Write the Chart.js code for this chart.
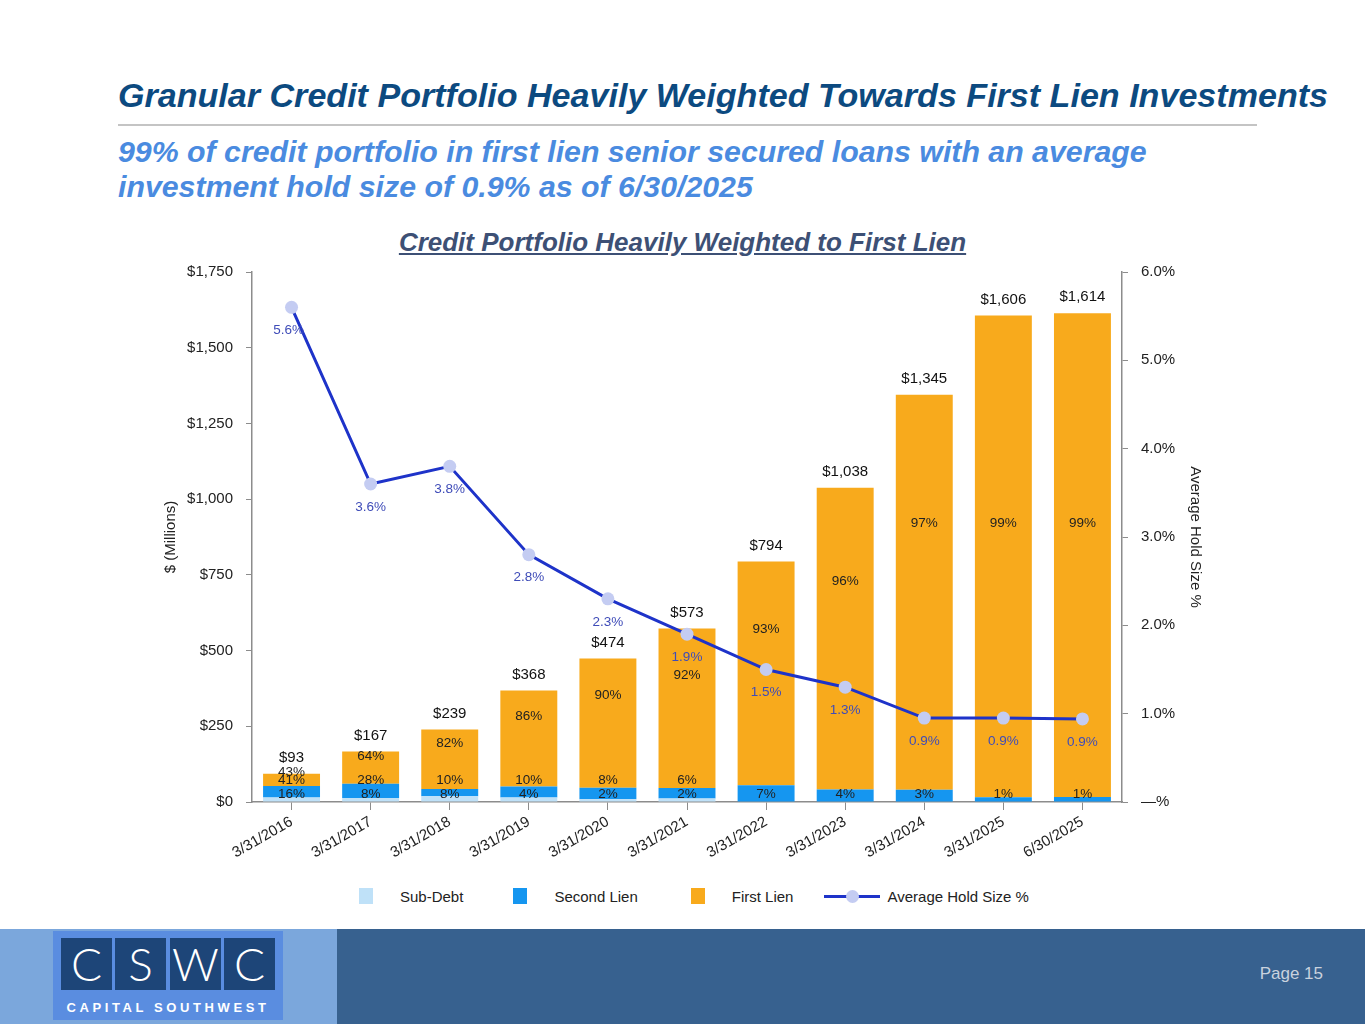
<!DOCTYPE html>
<html lang="en">
<head>
<meta charset="UTF-8">
<title>Credit Portfolio</title>
<script src="https://cdn.jsdelivr.net/npm/chart.js@4"></script>
<style>
  body { margin: 0; }
  #page { position: relative; width: 1365px; height: 1024px; overflow: hidden; background: #fff; font-family: "Liberation Sans", Arial, sans-serif; }
  #title { position: absolute; left: 118px; top: 76px; font-size: 34.1px; font-weight: bold; font-style: italic; color: #0c4a80; white-space: nowrap; }
  #rule { position: absolute; left: 118px; top: 124px; width: 1139px; height: 2px; background: #c4c4c4; }
  #subtitle { position: absolute; left: 118px; top: 134px; font-size: 30.3px; line-height: 35px; font-weight: bold; font-style: italic; color: #4a8be0; white-space: nowrap; }
  #chartTitle { position: absolute; left: 0; width: 1365px; top: 227px; text-align: center; font-size: 26px; font-weight: bold; font-style: italic; text-decoration: underline; color: #3d5075; }
  #myChart { position: absolute; left: 0; top: 250px; }
  #legend { position: absolute; left: 359px; top: 886px; height: 20px; display: flex; align-items: center; font-size: 15px; color: #222; }
  .item { display: flex; align-items: center; margin-right: 50px; }
  .box { width: 14px; height: 16px; margin-right: 27px; }
  .lineKey { position: relative; width: 56px; height: 3px; margin-right: 7px; }
  .lineKey span { position: absolute; left: 22px; top: -5px; width: 13px; height: 13px; border-radius: 50%; }
  #footer { position: absolute; left: 0; top: 929px; width: 1365px; height: 95px; background: #37618f; }
  #footLeft { position: absolute; left: 0; top: 0; width: 337px; height: 95px; background: #7ba7dc; }
  #logo { position: absolute; left: 53px; top: 2px; width: 230px; height: 89px; background: #5a8de0; }
  .sq { position: absolute; top: 7px; width: 51px; height: 52px; background: #1d4578; color: #fff; font-family: Lato, "Open Sans", sans-serif; font-weight: 300; font-size: 46px; line-height: 52px; text-align: center; }
  #logoText { position: absolute; left: 0; width: 230px; top: 69px; text-align: center; color: #fff; font-size: 13px; font-weight: bold; letter-spacing: 3.6px; }
  #pageNo { position: absolute; right: 42px; top: 35px; font-size: 17px; color: #c9d2de; }
</style>
</head>
<body>
<div id="page">
  <div id="title">Granular Credit Portfolio Heavily Weighted Towards First Lien Investments</div>
  <div id="rule"></div>
  <div id="subtitle">99% of credit portfolio in first lien senior secured loans with an average<br>investment hold size of 0.9% as of 6/30/2025</div>
  <div id="chartTitle">Credit Portfolio Heavily Weighted to First Lien</div>
  <canvas id="myChart" width="1365" height="620"></canvas>
  <div id="legend"></div>
  <div id="footer">
    <div id="footLeft"></div>
    <div id="logo">
      <div class="sq" style="left:8px">C</div>
      <div class="sq" style="left:62px">S</div>
      <div class="sq" style="left:117px">W</div>
      <div class="sq" style="left:171px">C</div>
      <div id="logoText">CAPITAL SOUTHWEST</div>
    </div>
    <div id="pageNo">Page 15</div>
  </div>
</div>

<script>
// values
const categories = ['3/31/2016', '3/31/2017', '3/31/2018', '3/31/2019', '3/31/2020', '3/31/2021',
                    '3/31/2022', '3/31/2023', '3/31/2024', '3/31/2025', '6/30/2025'];
const totals = [93, 167, 239, 368, 474, 573, 794, 1038, 1345, 1606, 1614];   // $ millions
const firstLienPct = [43, 64, 82, 86, 90, 92, 93, 96, 97, 99, 99];
const secondLienPct = [41, 28, 10, 10, 8, 6, 7, 4, 3, 1, 1];
const subDebtPct = [16, 8, 8, 4, 2, 2, 0, 0, 0, 0, 0];
const holdSize = [5.6, 3.6, 3.8, 2.8, 2.3, 1.9, 1.5, 1.3, 0.95, 0.95, 0.94];   // %

const dollarTicks = [0, 250, 500, 750, 1000, 1250, 1500, 1750];
const holdTicks = [0, 1, 2, 3, 4, 5, 6];

const FONT = '"Liberation Sans", Arial, sans-serif';

// dollar amount of each slice = total x share
function slice(p_pct) {
    return totals.map((t, i) => t * p_pct[i] / 100);
}

// percentage and total labels on the bars, hold size labels under points
const labelsPlugin = {
    id: 'barLabels',
    afterDatasetsDraw(chart) {
        const ctx = chart.ctx;
        const y = chart.scales.y;
        const yZero = y.getPixelForValue(0);
        const first = chart.getDatasetMeta(2).data;
        const line = chart.getDatasetMeta(3).data;
        ctx.save();
        ctx.textAlign = 'center';
        ctx.textBaseline = 'middle';
        for (let i = 0; i < categories.length; i++) {
            const bar = first[i];
            const top = bar.y;
            const h = bar.base - top;

            ctx.font = '15px ' + FONT;
            ctx.fillStyle = '#111';
            ctx.fillText('$' + totals[i].toLocaleString('en-US'), bar.x, top - 16);

            ctx.font = '13.5px ' + FONT;
            ctx.fillStyle = '#222';
            const yFirst = Math.max(top + 0.33 * h - 6, y.getPixelForValue(920));
            ctx.fillText(firstLienPct[i] + '%', bar.x, yFirst);
            if (subDebtPct[i] > 0) {
                ctx.fillText(subDebtPct[i] + '%', bar.x, yZero - 8);
                ctx.fillText(secondLienPct[i] + '%', bar.x, yZero - 22);
            } else {
                ctx.fillText(secondLienPct[i] + '%', bar.x, yZero - 8);
            }

            ctx.fillStyle = '#3f4cb8';
            ctx.fillText(holdSize[i].toFixed(1) + '%', line[i].x - (i === 0 ? 3 : 0), line[i].y + 23);
        }
        ctx.restore();
    }
};

const ctx = document.getElementById('myChart');

const myChart = new Chart(ctx, {
    data: {
        labels: categories,
        datasets: [
            { type: 'bar', label: 'Sub-Debt', data: slice(subDebtPct), backgroundColor: '#bfe1f8', stack: 's', order: 2 },
            { type: 'bar', label: 'Second Lien', data: slice(secondLienPct), backgroundColor: '#1596f0', stack: 's', order: 2 },
            { type: 'bar', label: 'First Lien', data: slice(firstLienPct), backgroundColor: '#f8aa1c', stack: 's', order: 2 },
            {
                type: 'line', label: 'Average Hold Size %', data: holdSize, yAxisID: 'y1', order: 0,
                borderColor: '#1e33c9', borderWidth: 3, tension: 0,
                pointRadius: 6.5, pointBackgroundColor: '#c4ccf2', pointBorderWidth: 0
            }
        ]
    },
    options: {
        responsive: false,
        animation: false,
        layout: { padding: { top: 18, left: 158, right: 157, bottom: 0 } },
        datasets: { bar: { categoryPercentage: 1, barPercentage: 0.72 } },
        plugins: { legend: { display: false }, tooltip: { enabled: false } },
        scales: {
            x: {
                stacked: true,
                afterFit(scale) { scale.height = 68; },
                grid: { drawOnChartArea: false, offset: false, tickLength: 8, color: '#8c8c8c' },
                border: { color: '#8c8c8c', width: 1.5 },
                ticks: { minRotation: 30, maxRotation: 30, color: '#222', font: { family: FONT, size: 15 } }
            },
            y: {
                stacked: true,
                min: 0, max: 1750,
                afterFit(scale) { scale.width = 94; },
                afterBuildTicks(scale) { scale.ticks = dollarTicks.map(v => ({ value: v })); },
                grid: { drawOnChartArea: false, tickLength: 6, color: '#8c8c8c' },
                border: { color: '#8c8c8c', width: 1.5 },
                ticks: {
                    padding: 13, color: '#222', font: { family: FONT, size: 15 },
                    callback: v => '$' + v.toLocaleString('en-US')
                },
                title: { display: true, text: '$ (Millions)', color: '#222', font: { family: FONT, size: 15 } }
            },
            y1: {
                position: 'right',
                min: 0, max: 6,
                afterFit(scale) { scale.width = 86; },
                afterBuildTicks(scale) { scale.ticks = holdTicks.map(v => ({ value: v })); },
                grid: { drawOnChartArea: false, tickLength: 6, color: '#8c8c8c' },
                border: { color: '#8c8c8c', width: 1.5 },
                ticks: {
                    padding: 13, color: '#222', font: { family: FONT, size: 15 },
                    callback: v => v === 0 ? '\u2014%' : v.toFixed(1) + '%'
                },
                title: { display: true, text: 'Average Hold Size %', color: '#222', font: { family: FONT, size: 15 } }
            }
        }
    },
    plugins: [labelsPlugin]
});

// legend built from the chart's datasets
const v_legend = document.getElementById('legend');
myChart.data.datasets.forEach((ds, i) => {
    const item = document.createElement('div');
    item.className = 'item';
    if (ds.type === 'line') {
        item.innerHTML = '<div class="lineKey" style="background:' + ds.borderColor + '"><span style="background:' +
            ds.pointBackgroundColor + '"></span></div>' + ds.label;
        item.style.marginRight = '0';
    } else {
        item.innerHTML = '<div class="box" style="background:' + ds.backgroundColor + '"></div>' + ds.label;
        if (i === 1) item.style.marginRight = '53px';
        if (i === 2) item.style.marginRight = '31px';
    }
    v_legend.appendChild(item);
});
</script>
</body>
</html>
